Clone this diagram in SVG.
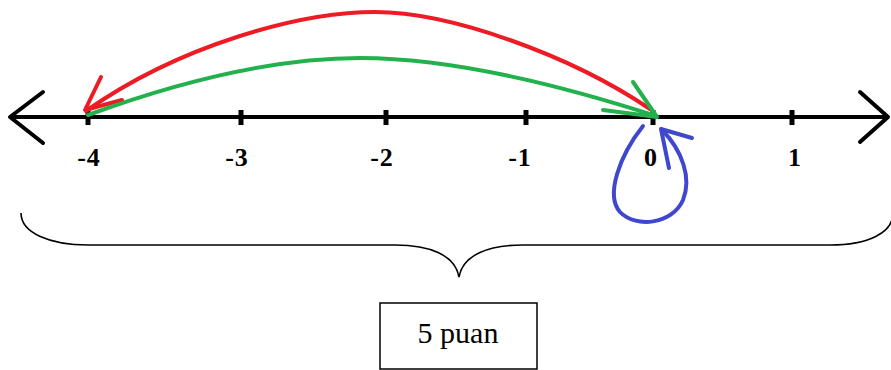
<svg xmlns="http://www.w3.org/2000/svg" width="891" height="370" viewBox="0 0 891 370">
<style>
.axis{stroke:#000;stroke-width:4;fill:none;stroke-linecap:round;stroke-linejoin:round}
.tick{stroke:#000;stroke-width:5}
.lbl{font-family:"Liberation Serif",serif;font-weight:bold;font-size:26px;text-anchor:middle;fill:#000;letter-spacing:1px}
.red{stroke:#ed1c24;stroke-width:4;fill:none;stroke-linecap:round;stroke-linejoin:round}
.green{stroke:#22b14c;stroke-width:4;fill:none;stroke-linecap:round;stroke-linejoin:round}
.blue{stroke:#3f48cc;stroke-width:4;fill:none;stroke-linecap:round;stroke-linejoin:round}
.brace{stroke:#000;stroke-width:1.6;fill:none}
</style>
<rect width="891" height="370" fill="#fff"/>
<g id="numberline">
<line class="axis" x1="12" y1="117" x2="886" y2="117"/>
<polyline class="axis" stroke-width="5" points="43,92 10,117 43,143"/>
<polyline class="axis" stroke-width="5" points="860,92 888,117 860,142"/>
<line class="tick" x1="88" y1="110" x2="88" y2="125"/>
<line class="tick" x1="241" y1="110" x2="241" y2="125"/>
<line class="tick" x1="386" y1="110" x2="386" y2="125"/>
<line class="tick" x1="526" y1="110" x2="526" y2="125"/>
<line class="tick" x1="653" y1="110" x2="653" y2="125"/>
<line class="tick" x1="792" y1="110" x2="792" y2="125"/>
<text class="lbl" x="89" y="166">-4</text>
<text class="lbl" x="237" y="166">-3</text>
<text class="lbl" x="382" y="166">-2</text>
<text class="lbl" x="520" y="166">-1</text>
<text class="lbl" x="651" y="166" letter-spacing="0">0</text>
<text class="lbl" x="795" y="166" letter-spacing="0">1</text>
</g>
<g id="connectors">
<path class="red" d="M86,111 C180,45 300,12 375,12 C450,12 570,55 650,109"/>
<polyline class="red" points="101,77 85,110 122,100"/>
<path class="green" d="M88,115 C170,85 270,58 360,58 C450,58 560,85 656,116"/>
<polyline class="green" points="633,82 657,117 603,110"/>
<path class="blue" d="M643,126 C620,155 605,195 620,212 C635,228 672,225 683,200 C692,178 682,150 662,130"/>
<polyline class="blue" points="692,138 661,129 669,168"/>
</g>
<g id="brace">
<path class="brace" d="M21,213 C21,233 50,245 88,245 L395,245 C430,245 455,255 459,277 C463,255 488,245 523,245 L830,245 C868,245 893,233 893,213"/>
</g>
<g id="box">
<rect x="380" y="303" width="157" height="66" fill="#fff" stroke="#000" stroke-width="1.5"/>
<text x="458" y="343" font-family="'Liberation Serif',serif" font-size="30" text-anchor="middle" fill="#000">5 puan</text>
</g>
</svg>
